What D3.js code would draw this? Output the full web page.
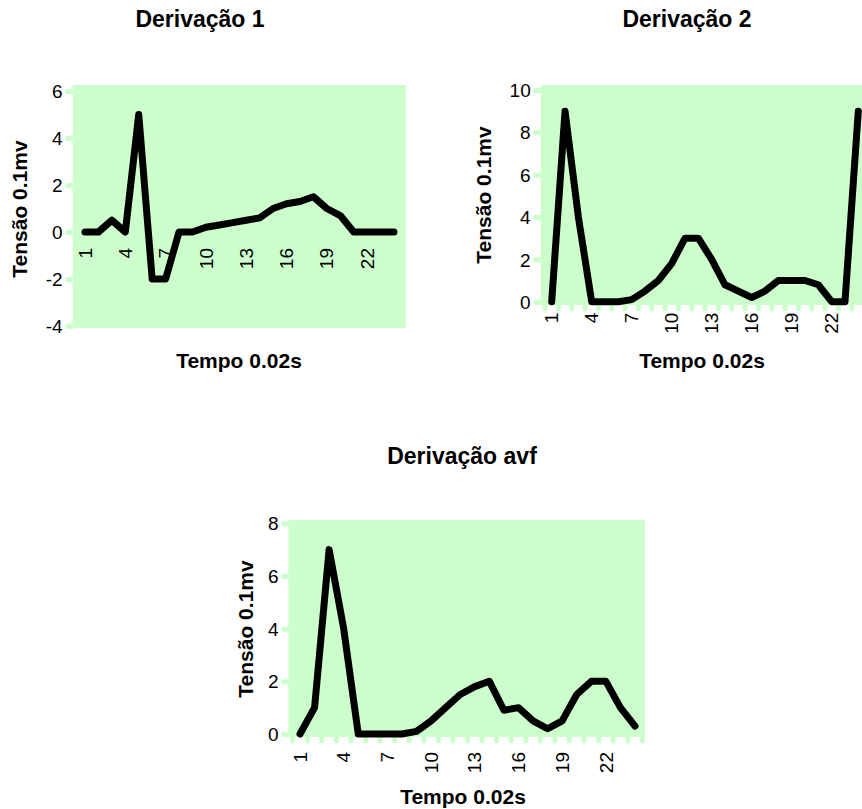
<!DOCTYPE html>
<html><head><meta charset="utf-8">
<script src="https://cdn.jsdelivr.net/npm/d3@7"></script>
<style>body{margin:0;background:#fff}svg{display:block}</style>
</head><body><svg id="c" width="862" height="809"></svg>
<script>
// ---- data ----
const categories = [1,2,3,4,5,6,7,8,9,10,11,12,13,14,15,16,17,18,19,20,21,22,23,24];
const xTickLabels = [1,4,7,10,13,16,19,22];
const deriv1   = [0,0,0.5,0,5,-2,-2,0,0,0.2,0.3,0.4,0.5,0.6,1.0,1.2,1.3,1.5,1.0,0.7,0,0,0,0];
const deriv2   = [0,9,4,0,0,0,0.1,0.5,1.0,1.8,3,3,2,0.8,0.5,0.2,0.5,1,1,1,0.8,0,0,9];
const derivAvf = [0,1,7,4,0,0,0,0,0.1,0.5,1.0,1.5,1.8,2,0.9,1.0,0.5,0.2,0.5,1.5,2,2,1.0,0.3];
const yTicks1 = [-4,-2,0,2,4,6];
const yTicks2 = [0,2,4,6,8,10];
const yTicks3 = [0,2,4,6,8];
const titles = ["Derivação 1","Derivação 2","Derivação avf"];
const xTitle = "Tempo 0.02s";
const yTitle = "Tensão 0.1mv";

// ---- layout ----
const FONT = "'Liberation Sans', Arial, sans-serif";
const GREEN = "#CCFFCC";
const svg = d3.select("#c");

const charts = [
  {values: deriv1, yTicks: yTicks1, title: titles[0],
   plot: {l: 72.7, r: 406, t: 85, b: 328}, xr: [85, 394], yr: [326, 91],
   titlePos: [200, 27], xTitlePos: [239, 368], yTitlePos: [20, 209],
   labelOffset: 16, bottomTicks: false},
  {values: deriv2, yTicks: yTicks2, title: titles[1],
   plot: {l: 540.7, r: 870, t: 85, b: 305}, xr: [551.7, 858.3], yr: [301.7, 90],
   titlePos: [687, 27], xTitlePos: [702, 368], yTitlePos: [484, 195],
   labelOffset: 11, bottomTicks: true},
  {values: derivAvf, yTicks: yTicks3, title: titles[2],
   plot: {l: 288.5, r: 645, t: 520, b: 737}, xr: [300, 635], yr: [734, 523.3],
   titlePos: [462, 464], xTitlePos: [463, 804], yTitlePos: [246, 629],
   labelOffset: 18, bottomTicks: true}
];

charts.forEach(c => {
  const g = svg.append("g");
  const x = d3.scalePoint().domain(categories).range(c.xr);
  const y = d3.scaleLinear().domain(d3.extent(c.yTicks)).range(c.yr);
  const step = x.step();

  // plot area
  g.append("rect")
    .attr("x", c.plot.l).attr("y", c.plot.t)
    .attr("width", c.plot.r - c.plot.l).attr("height", c.plot.b - c.plot.t)
    .attr("fill", GREEN);

  // y axis ticks (green bumps) + labels
  const yAxis = d3.axisLeft(y).tickValues(c.yTicks).tickSize(5).tickPadding(6).tickFormat(d => String(d));
  const ya = g.append("g").attr("transform", `translate(${c.plot.l},0)`).call(yAxis);
  ya.select(".domain").remove();
  ya.selectAll(".tick line").attr("stroke", GREEN).attr("stroke-width", 5).attr("stroke-linecap", "round");
  ya.selectAll(".tick text").attr("font-family", FONT).attr("font-size", 19).attr("fill", "#000").attr("x", -10).attr("dy", "0.35em");

  // x axis ticks between categories
  if (c.bottomTicks) {
    const bounds = categories.map(d => x(d) - step / 2).concat([x(categories[categories.length - 1]) + step / 2]);
    g.append("g").selectAll("line").data(bounds).join("line")
      .attr("x1", d => d).attr("x2", d => d)
      .attr("y1", c.plot.b).attr("y2", c.plot.b + 4)
      .attr("stroke", GREEN).attr("stroke-width", 5).attr("stroke-linecap", "round");
  }

  // x tick labels (rotated)
  const y0 = y(0);
  g.append("g").selectAll("text").data(xTickLabels).join("text")
    .attr("transform", d => `translate(${x(d)},${y0 + c.labelOffset}) rotate(-90)`)
    .attr("text-anchor", "end").attr("dy", "0.35em")
    .attr("font-family", FONT).attr("font-size", 19).attr("fill", "#000")
    .text(d => d);

  // line
  const line = d3.line().x((d, i) => x(categories[i])).y(d => y(d));
  g.append("path").datum(c.values).attr("d", line)
    .attr("fill", "none").attr("stroke", "#000").attr("stroke-width", 7)
    .attr("stroke-linejoin", "round").attr("stroke-linecap", "round");

  // titles
  g.append("text").attr("x", c.titlePos[0]).attr("y", c.titlePos[1])
    .attr("text-anchor", "middle").attr("font-family", FONT).attr("font-weight", "bold")
    .attr("font-size", 23).text(c.title);
  g.append("text").attr("x", c.xTitlePos[0]).attr("y", c.xTitlePos[1])
    .attr("text-anchor", "middle").attr("font-family", FONT).attr("font-weight", "bold")
    .attr("font-size", 21).text(xTitle);
  g.append("text").attr("transform", `translate(${c.yTitlePos[0]},${c.yTitlePos[1]}) rotate(-90)`)
    .attr("text-anchor", "middle").attr("dy", "0.35em").attr("font-family", FONT).attr("font-weight", "bold")
    .attr("font-size", 21).text(yTitle);
});
</script></body></html>
